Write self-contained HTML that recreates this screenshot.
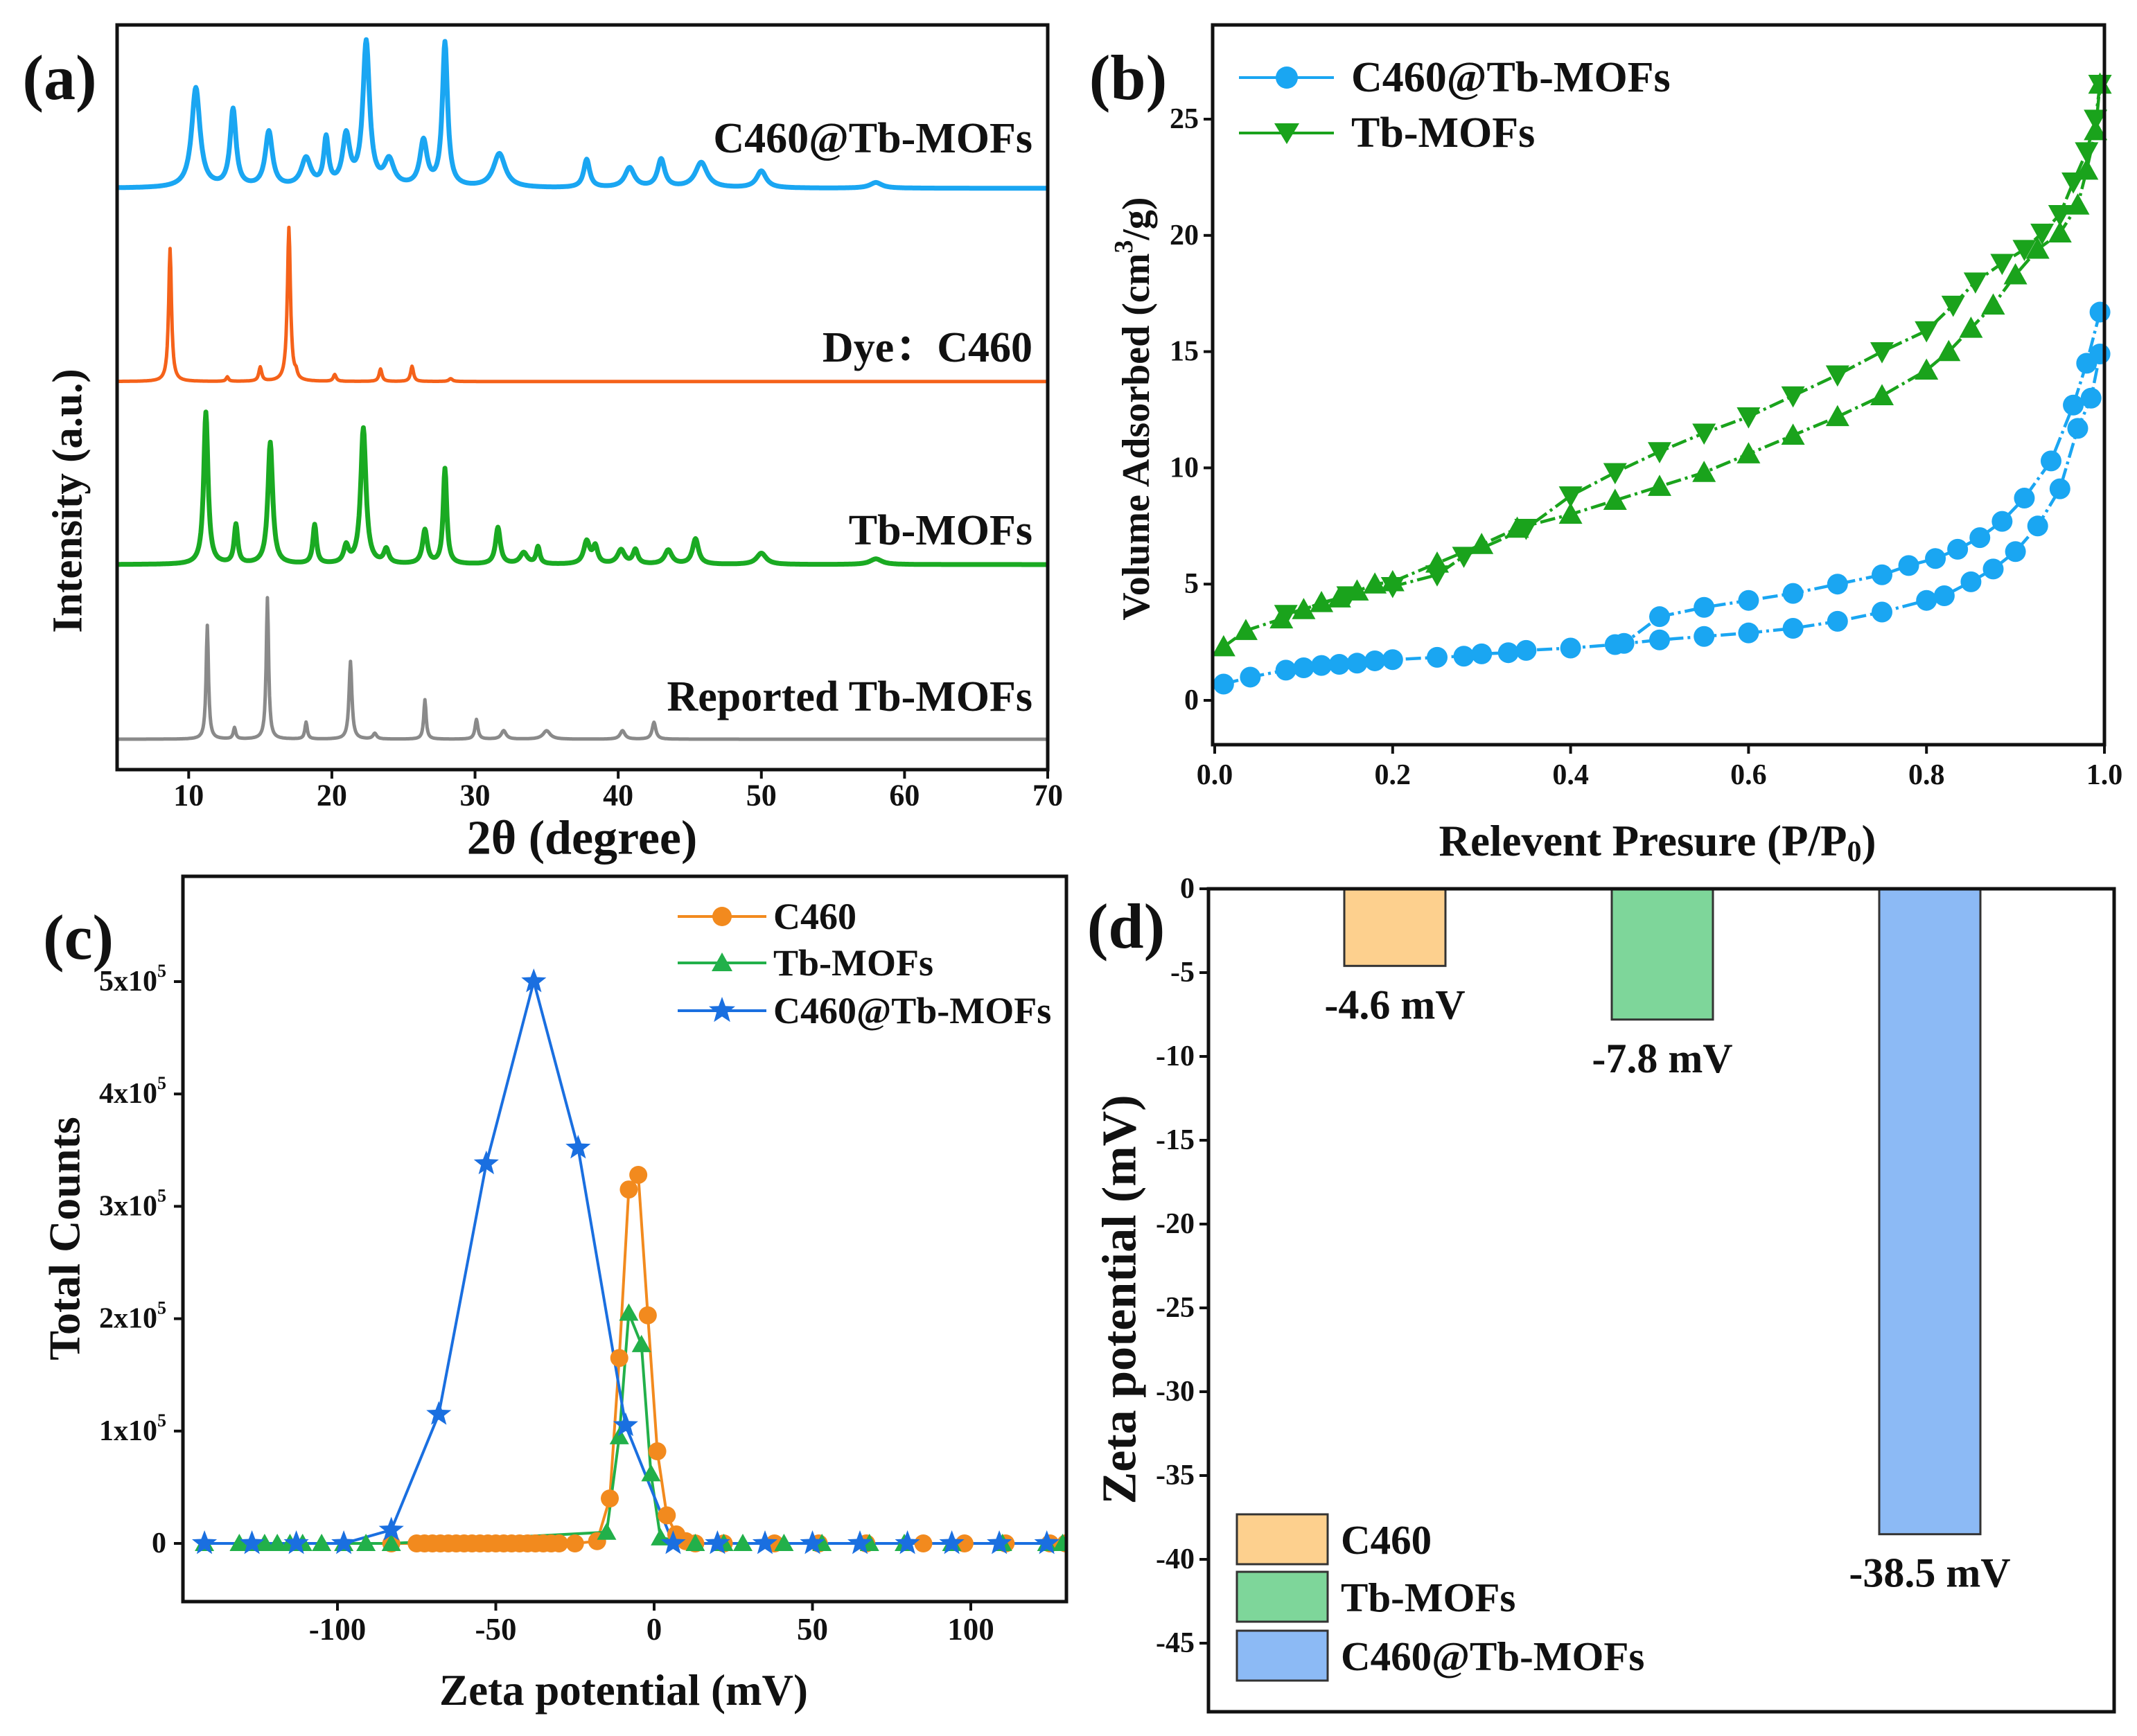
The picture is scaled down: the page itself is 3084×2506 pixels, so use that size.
<!DOCTYPE html>
<html><head><meta charset="utf-8"><style>
html,body{margin:0;padding:0;background:#fff}
svg{display:block;font-family:"Liberation Serif",serif;font-weight:bold}
</style></head><body>
<svg id="fig" width="3084" height="2506" viewBox="0 0 3084 2506" xmlns="http://www.w3.org/2000/svg">
<rect width="3084" height="2506" fill="#fff"/>
</svg>
<script>
// ---------- Panel (a) XRD data: [position(deg), height(a.u.), width(deg)] ----------
const xrdTicks = [10,20,30,40,50,60,70];
const blueOffset = 1032, orangeOffset = 689, greenOffset = 364, grayOffset = 54;
const bluePeaks = [[10.5,177,0.35],[13.1,137,0.25],[15.6,98,0.3],[18.2,50,0.4],[19.6,83,0.2],[21.0,88,0.3],[22.4,255,0.28],[24.0,45,0.4],[26.4,80,0.3],[27.9,255,0.22],[31.7,60,0.5],[37.8,50,0.25],[40.8,35,0.4],[43.0,50,0.3],[45.8,45,0.5],[50.0,30,0.4],[58,10,0.5]];
const orangePeaks = [[8.7,236,0.12],[12.7,8,0.1],[15.0,25,0.12],[17.0,273,0.13],[17.5,10,0.1],[20.2,12,0.12],[23.4,22,0.12],[25.6,27,0.12],[28.3,5,0.15]];
const greenPeaks = [[11.2,270,0.18],[13.3,69,0.15],[15.7,216,0.2],[18.8,69,0.15],[21.0,30,0.2],[22.2,241,0.22],[23.8,25,0.2],[26.5,60,0.2],[27.9,169,0.15],[31.6,65,0.2],[33.4,20,0.3],[34.4,30,0.15],[37.8,40,0.25],[38.4,30,0.2],[40.2,25,0.3],[41.2,25,0.2],[43.5,25,0.3],[45.4,45,0.25],[50.0,20,0.4],[58,10,0.5]];
const grayPeaks = [[11.3,202,0.1],[13.2,20,0.1],[15.5,251,0.1],[18.2,30,0.1],[21.3,138,0.12],[23.0,10,0.15],[26.5,70,0.1],[30.1,35,0.12],[32.0,15,0.2],[35.0,15,0.3],[40.3,15,0.2],[42.5,30,0.15]];

// ---------- Panel (b) isotherm data ----------
const bTicksX = [0.0,0.2,0.4,0.6,0.8,1.0];
const bTicksY = [0,5,10,15,20,25];
const c460AdsP = [0.01,0.04,0.08,0.1,0.12,0.14,0.16,0.18,0.2,0.25,0.28,0.3,0.33,0.35,0.4,0.45,0.5,0.55,0.6,0.65,0.7,0.75,0.8,0.82,0.85,0.875,0.9,0.925,0.95,0.97,0.985,0.995];
const c460AdsV = [0.7,1.0,1.3,1.4,1.5,1.55,1.6,1.7,1.75,1.85,1.9,2.0,2.05,2.15,2.25,2.4,2.6,2.75,2.9,3.1,3.4,3.8,4.3,4.5,5.1,5.65,6.4,7.5,9.1,11.7,13.0,14.9];
const c460DesP = [0.995,0.98,0.965,0.94,0.91,0.885,0.86,0.835,0.81,0.78,0.75,0.7,0.65,0.6,0.55,0.5,0.46];
const c460DesV = [16.7,14.5,12.7,10.3,8.7,7.7,7.0,6.5,6.1,5.8,5.4,5.0,4.6,4.3,4.0,3.6,2.45];
const tbAdsP = [0.01,0.035,0.075,0.1,0.12,0.14,0.16,0.18,0.2,0.25,0.3,0.34,0.4,0.45,0.5,0.55,0.6,0.65,0.7,0.75,0.8,0.825,0.85,0.875,0.9,0.925,0.95,0.97,0.98,0.99,0.995];
const tbAdsV = [2.3,3.0,3.5,3.9,4.2,4.4,4.7,5.0,5.1,5.9,6.7,7.4,8.0,8.6,9.2,9.8,10.6,11.4,12.2,13.1,14.2,15.0,16.0,17.0,18.3,19.4,20.1,21.3,22.8,24.5,26.5];
const tbDesP = [0.995,0.99,0.98,0.965,0.95,0.93,0.91,0.885,0.855,0.83,0.8,0.75,0.7,0.65,0.6,0.55,0.5,0.45,0.4,0.35,0.28,0.25,0.2,0.15,0.08];
const tbDesV = [26.5,25.0,23.6,22.3,20.9,20.1,19.4,18.8,18.0,17.0,15.9,15.0,14.0,13.1,12.2,11.5,10.7,9.8,8.8,7.4,6.2,5.4,4.9,4.5,3.7];

// ---------- Panel (c) zeta distribution ----------
const cTicksX = [-100,-50,0,50,100];
const cTicksY = [0,1,2,3,4,5];
const c460ZX = [-83,-75,-72.5,-70,-67.5,-65,-62.5,-60,-57.5,-55,-52.5,-50,-47.5,-45,-42.5,-40,-37.5,-35,-32.5,-30,-25,-18,-14,-11,-8,-5,-2,1,4,7,10,13,22,38,52,67,85,98,111,125,130];
const c460ZY = [0,0,0,0,0,0,0,0,0,0,0,0,0,0,0,0,0,0,0,0,0,0.02,0.4,1.65,3.15,3.28,2.03,0.82,0.25,0.08,0.02,0,0,0,0,0,0,0,0,0,0];
const tbZX = [-142,-131,-127,-123,-119,-115,-111,-105,-98,-91,-83,-15,-11,-8,-4,-1,2,13,22,28,41,53,68,79,94,110,124,129];
const tbZY = [0,0,0,0,0,0,0,0,0,0,0,0.1,0.95,2.05,1.77,0.62,0.05,0,0,0,0,0,0,0,0,0,0,0];
const mofZX = [-142,-127,-113,-98,-83,-68,-53,-38,-24,-9,6,20,35,50,65,80,94,109,124];
const mofZY = [0,0,0,0,0.12,1.15,3.38,5.0,3.52,1.05,0,0,0,0,0,0,0,0,0];

// ---------- Panel (d) bars ----------
const dCats = ['C460','Tb-MOFs','C460@Tb-MOFs'];
const dVals = [-4.6,-7.8,-38.5];
const dLabels = ['-4.6 mV','-7.8 mV','-38.5 mV'];
const dTicks = [0,-5,-10,-15,-20,-25,-30,-35,-40,-45];

const NS='http://www.w3.org/2000/svg';
const svg=document.getElementById('fig');
function mk(tag,attrs,parent){const e=document.createElementNS(NS,tag);for(const k in attrs)e.setAttribute(k,attrs[k]);(parent||svg).appendChild(e);return e;}
function txt(s,x,y,size,anchor,parent,extra){const e=mk('text',Object.assign({x:x,y:y,'font-size':size,'text-anchor':anchor||'middle','dominant-baseline':'central',fill:'#111'},extra||{}),parent);e.textContent=s;return e;}
function lin(d0,d1,r0,r1){return v=>r0+(v-d0)*(r1-r0)/(d1-d0);}

// ================= Panel (a) =================
(function(){
const g=mk('g',{});


const X=lin(5,70,169,1512), Y=lin(0,1322,1111,36);
function profile(peaks,off){let d='';for(let x=5;x<=70.001;x+=0.05){let y=off;for(const p of peaks){const t=(x-p[0])/p[2];y+=p[1]/(1+t*t);}d+=(d?'L':'M')+X(x).toFixed(1)+','+Y(y).toFixed(1);}return d;}
const series=[[bluePeaks,blueOffset,'#1aa6f2',7,'xrd-c460-tb-mofs'],[orangePeaks,orangeOffset,'#f5621a',5,'xrd-dye-c460'],[greenPeaks,greenOffset,'#1aaa22',7,'xrd-tb-mofs'],[grayPeaks,grayOffset,'#8a8a8a',5,'xrd-reported-tb-mofs']];
for(const s of series){const p=mk('path',{d:profile(s[0],s[1]),fill:'none',stroke:s[2],'stroke-width':s[3],'stroke-linejoin':'round'},g);

}
const fr=mk('rect',{x:169,y:36,width:1343,height:1075,fill:'none',stroke:'#111','stroke-width':5},g);


for(const t of xrdTicks){mk('line',{x1:X(t),y1:1111,x2:X(t),y2:1124,stroke:'#111','stroke-width':4},g);
const l=txt(String(t),X(t),1148,44,'middle',g);

}
let e=txt('2θ (degree)',840,1210,70,'middle',g);
e=txt('Intensity (a.u.)',0,0,61,'middle',g,{transform:'translate(98,723) rotate(-90)'});
e=txt('(a)',86,112,92,'middle',g);
const labs=[['C460@Tb-MOFs',200,'label-c460-tb-mofs'],['Dye：C460',502,'label-dye-c460'],['Tb-MOFs',766,'label-tb-mofs'],['Reported Tb-MOFs',1006,'label-reported-tb-mofs']];
for(const L of labs){e=txt(L[0],1490,L[1],62,'end',g,{'font-family':'"Liberation Serif","Noto Serif CJK SC",serif'});

}
})();

// ================= Panel (b) =================
(function(){
const g=mk('g',{});


const X=lin(0,1,1753,3037), Y=lin(0,25,1011,172);
function poly(px,py,color,name){const d=px.map((p,i)=>(i?'L':'M')+X(p).toFixed(1)+','+Y(py[i]).toFixed(1)).join('');const p=mk('path',{d:d,fill:'none',stroke:color,'stroke-width':4.5,'stroke-dasharray':'22 6 4 6'},g);

}
function circles(px,py,color,name){const gg=mk('g',{},g);px.forEach((p,i)=>mk('circle',{cx:X(p),cy:Y(py[i]),r:15,fill:color},gg));}
function tris(px,py,color,down,name){const gg=mk('g',{},g);px.forEach((p,i)=>{const x=X(p),y=Y(py[i]),s=17;const pts=down?`${x-s},${y-s*0.8} ${x+s},${y-s*0.8} ${x},${y+s}`:`${x-s},${y+s*0.8} ${x+s},${y+s*0.8} ${x},${y-s}`;mk('polygon',{points:pts,fill:color},gg);});}
const B='#1aa6f2',G='#1aa31c';
poly(c460AdsP,c460AdsV,B,'c460-adsorption-line');poly(c460DesP,c460DesV,B,'c460-desorption-line');
poly(tbAdsP,tbAdsV,G,'tb-adsorption-line');poly(tbDesP,tbDesV,G,'tb-desorption-line');
circles(c460AdsP,c460AdsV,B,'c460-adsorption-points');circles(c460DesP,c460DesV,B,'c460-desorption-points');
tris(tbAdsP,tbAdsV,G,false,'tb-adsorption-points');tris(tbDesP,tbDesV,G,true,'tb-desorption-points');
const fr=mk('rect',{x:1750,y:36,width:1287,height:1039,fill:'none',stroke:'#111','stroke-width':5},g);


for(const t of bTicksX){mk('line',{x1:X(t),y1:1075,x2:X(t),y2:1088,stroke:'#111','stroke-width':4},g);
const l=txt(t.toFixed(1),X(t),1119,42,'middle',g);

}
for(const t of bTicksY){mk('line',{x1:1737,y1:Y(t),x2:1750,y2:Y(t),stroke:'#111','stroke-width':4},g);
const l=txt(String(t),1730,Y(t),42,'end',g);

}
let e=mk('text',{x:2392,y:1214,'font-size':63,'text-anchor':'middle','dominant-baseline':'central',fill:'#111'},g);
e.innerHTML='Relevent Presure (P/P<tspan font-size="42" dy="16">0</tspan><tspan dy="-16">)</tspan>';

e=mk('text',{'font-size':56,'text-anchor':'middle','dominant-baseline':'central',fill:'#111',transform:'translate(1640,590) rotate(-90)'},g);
e.innerHTML='Volume Adsorbed (cm<tspan font-size="38" dy="-18">3</tspan><tspan dy="18">/g)</tspan>';

e=txt('(b)',1628,112,92,'middle',g);
// legend
const lg=mk('g',{},g);
mk('line',{x1:1788,y1:112,x2:1925,y2:112,stroke:B,'stroke-width':4},lg);mk('circle',{cx:1857,cy:112,r:16,fill:B},lg);
e=txt('C460@Tb-MOFs',1950,112,62,'start',lg);
mk('line',{x1:1788,y1:192,x2:1925,y2:192,stroke:G,'stroke-width':4},lg);mk('polygon',{points:'1839,178 1875,178 1857,208',fill:G},lg);
e=txt('Tb-MOFs',1950,192,62,'start',lg);
})();

// ================= Panel (c) =================
(function(){
const g=mk('g',{});


const X=lin(0,100,944,1401), Y=lin(0,5,2228,1417);
const clip=mk('clipPath',{id:'clipc'},g);mk('rect',{x:264,y:1265,width:1275,height:1047},clip);
const pg=mk('g',{'clip-path':'url(#clipc)'},g);
function line(px,py,color,name){const d=px.map((p,i)=>(i?'L':'M')+X(p).toFixed(1)+','+Y(py[i]).toFixed(1)).join('');const p=mk('path',{d:d,fill:'none',stroke:color,'stroke-width':4},pg);

}
function star(cx,cy,r,color,parent){let pts=[];for(let k=0;k<10;k++){const a=-Math.PI/2+k*Math.PI/5,rr=k%2?r*0.42:r;pts.push((cx+rr*Math.cos(a)).toFixed(1)+','+(cy+rr*Math.sin(a)).toFixed(1));}mk('polygon',{points:pts.join(' '),fill:color},parent);}
const O='#f28a1e',G='#22b04a',Bl='#1a6fe0';
line(c460ZX,c460ZY,O,'c460-line');line(tbZX,tbZY,G,'tb-mofs-line');line(mofZX,mofZY,Bl,'c460-tb-mofs-line');
let gg=mk('g',{},pg);
c460ZX.forEach((p,i)=>mk('circle',{cx:X(p),cy:Y(c460ZY[i]),r:13,fill:O},gg));
gg=mk('g',{},pg);
tbZX.forEach((p,i)=>{const x=X(p),y=Y(tbZY[i]);mk('polygon',{points:`${x-14},${y+11} ${x+14},${y+11} ${x},${y-14}`,fill:G},gg);});
gg=mk('g',{},pg);
mofZX.forEach((p,i)=>star(X(p),Y(mofZY[i]),19,Bl,gg));
const fr=mk('rect',{x:264,y:1265,width:1275,height:1047,fill:'none',stroke:'#111','stroke-width':5},g);


for(const t of cTicksX){mk('line',{x1:X(t),y1:2312,x2:X(t),y2:2325,stroke:'#111','stroke-width':4},g);
const l=txt(String(t),X(t),2352,45,'middle',g);

}
for(const t of cTicksY){mk('line',{x1:251,y1:Y(t),x2:264,y2:Y(t),stroke:'#111','stroke-width':4},g);
const l=mk('text',{x:240,y:Y(t),'font-size':42,'text-anchor':'end','dominant-baseline':'central',fill:'#111'},g);
if(t===0){l.textContent='0';}else{l.innerHTML=t+'x10<tspan font-size="26" dy="-16">5</tspan>';}

}
let e=txt('Zeta potential (mV)',900,2440,63,'middle',g);
e=txt('Total Counts',0,0,64,'middle',g,{transform:'translate(93,1788) rotate(-90)'});
e=txt('(c)',113,1353,92,'middle',g);
const lg=mk('g',{},g);
const rows=[[1323,O,'C460','legend-entry-c460'],[1390,G,'Tb-MOFs','legend-entry-tb-mofs'],[1459,Bl,'C460@Tb-MOFs','legend-entry-c460-tb-mofs']];
rows.forEach((r,i)=>{mk('line',{x1:978,y1:r[0],x2:1106,y2:r[0],stroke:r[1],'stroke-width':4},lg);
if(i===0)mk('circle',{cx:1042,cy:r[0],r:14,fill:r[1]},lg);else if(i===1)mk('polygon',{points:`1027,${r[0]+12} 1057,${r[0]+12} 1042,${r[0]-15}`,fill:r[1]},lg);else star(1042,r[0],20,r[1],lg);
const t=txt(r[2],1116,r[0],54,'start',lg);

});
})();

// ================= Panel (d) =================
(function(){
const g=mk('g',{});


const Y=lin(0,-45,1283,2372);
const XC=i=>2013+i*386;
const colors=['#fdd08e','#7ed69a','#8cbaf5'];
dVals.forEach((v,i)=>{const r=mk('rect',{x:XC(i)-73,y:Y(0),width:146,height:Y(v)-Y(0),fill:colors[i],stroke:'#333','stroke-width':3},g);


const t=txt(dLabels[i],XC(i),Y(v)+56,60,'middle',g);

});
const fr=mk('rect',{x:1744,y:1283,width:1307,height:1188,fill:'none',stroke:'#111','stroke-width':5},g);


for(const t of dTicks){mk('line',{x1:1731,y1:Y(t),x2:1744,y2:Y(t),stroke:'#111','stroke-width':4},g);
const l=txt(String(t),1724,Y(t),42,'end',g);

}
let e=txt('Zeta potential (mV)',0,0,70,'middle',g,{transform:'translate(1616,1876) rotate(-90)'});
e=txt('(d)',1625,1337,92,'middle',g);
const lg=mk('g',{},g);
const ly=[2186,2269,2354];
dCats.forEach((c,i)=>{mk('rect',{x:1785,y:ly[i],width:131,height:72,fill:colors[i],stroke:'#333','stroke-width':3},lg);
const t=txt(c,1935,ly[i]+37,59,'start',lg);

});
})();
</script>
</body></html>
